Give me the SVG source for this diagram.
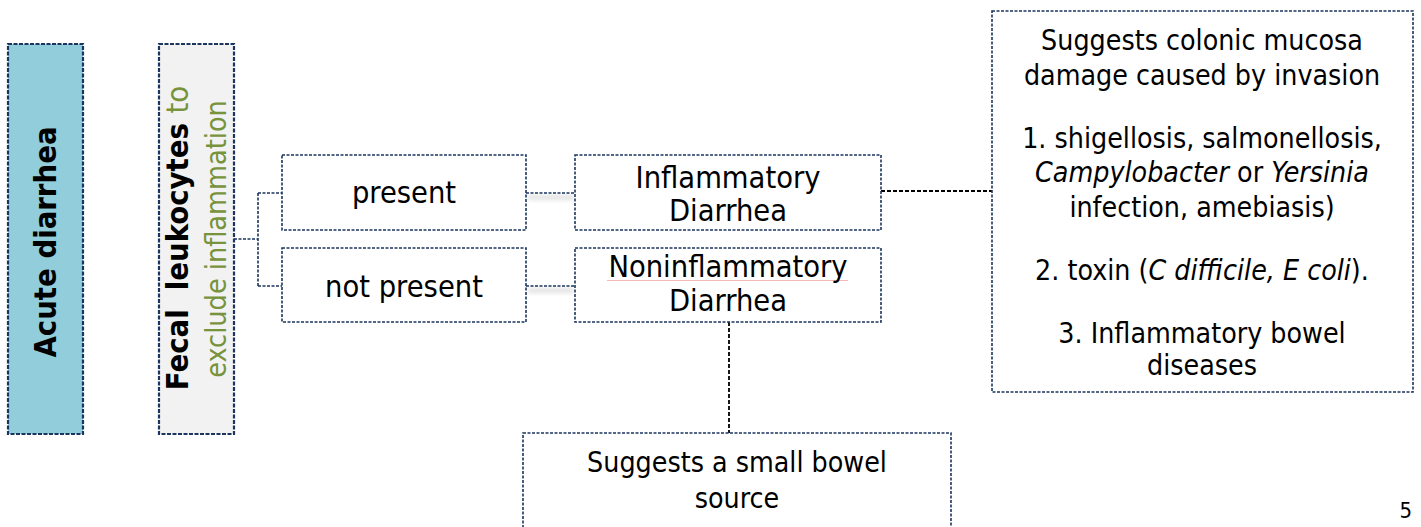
<svg xmlns="http://www.w3.org/2000/svg" width="1421" height="527" viewBox="0 0 1421 527">
<style>
.box{fill:#ffffff;stroke:#1c355e;stroke-width:1.6;stroke-dasharray:3 1.5}
.thick{stroke-width:2.2;stroke-dasharray:4 1.5}
.t{font-family:"DejaVu Sans Condensed","DejaVu Sans",sans-serif;font-stretch:condensed;fill:#000;text-anchor:middle}
.m{font-size:30.5px}
.s{font-size:28.3px}
.b{font-weight:bold}
.i{font-style:italic}
.g{fill:#77933c;font-weight:normal}
.cn{fill:none;stroke:#1c355e;stroke-width:1.6;stroke-dasharray:3 1.5}
.ck{fill:none;stroke:#000;stroke-width:1.8;stroke-dasharray:4 2}
</style>
<defs>
<filter id="blur" x="-20%" y="-100%" width="140%" height="300%"><feGaussianBlur stdDeviation="2"/></filter>
</defs>
<rect width="1421" height="527" fill="#ffffff"/>

<g id="connectors">
<rect x="528" y="195" width="46" height="5" fill="#cfcfcf" opacity="0.6" filter="url(#blur)"/>
<rect x="528" y="288" width="46" height="5" fill="#cfcfcf" opacity="0.6" filter="url(#blur)"/>
<path class="cn" d="M234,239 H258 M258,193 V286 M258,193 H282 M258,286 H282"/>
<path class="cn" d="M526,193 H575"/>
<path class="cn" d="M526,286 H575"/>
<path class="ck" d="M881,191 H992"/>
<path class="ck" d="M729,322 V433"/>
</g>

<g id="acute">
<rect class="box thick" x="8" y="44" width="75" height="390" style="fill:#92cddc"/>
<text class="t b" font-size="30.7" transform="translate(56,242) rotate(-90)">Acute diarrhea</text>
</g>

<g id="fecal">
<rect class="box thick" x="159" y="44" width="75" height="390" style="fill:#f2f2f2"/>
<text class="t b" font-size="30.7" xml:space="preserve" transform="translate(188,238) rotate(-90)">Fecal  leukocytes <tspan class="g">to</tspan></text>
<text class="t" font-size="28.5" style="fill:#77933c" transform="translate(226,239) rotate(-90)">exclude inflammation</text>
</g>

<g id="present">
<rect class="box" x="282" y="155" width="244" height="75"/>
<text class="t m" x="404" y="203">present</text>
</g>

<g id="notpresent">
<rect class="box" x="282" y="248" width="244" height="74"/>
<text class="t m" x="404" y="297">not present</text>
</g>

<g id="inflammatory">
<rect class="box" x="575" y="155" width="306" height="75"/>
<text class="t m" x="728" y="188">Inflammatory</text>
<text class="t m" x="728" y="221">Diarrhea</text>
</g>

<g id="noninflammatory">
<rect class="box" x="575" y="248" width="306" height="74"/>
<line x1="607" y1="280.5" x2="848" y2="280.5" stroke="#f4b8b8" stroke-width="1.2"/>
<text class="t m" x="728" y="277">Noninflammatory</text>
<text class="t m" x="728" y="311">Diarrhea</text>
</g>

<g id="colonic">
<rect class="box" x="992" y="11" width="421" height="381"/>
<text class="t s" x="1202" y="50">Suggests colonic mucosa</text>
<text class="t s" x="1202" y="85">damage caused by invasion</text>
<text class="t s" x="1202" y="148">1. shigellosis, salmonellosis,</text>
<text class="t s" x="1202" y="182"><tspan class="i">Campylobacter</tspan> or <tspan class="i">Yersinia</tspan></text>
<text class="t s" x="1202" y="217">infection, amebiasis)</text>
<text class="t s" x="1202" y="280">2. toxin (<tspan class="i">C difficile, E coli</tspan>).</text>
<text class="t s" x="1202" y="343">3. Inflammatory bowel</text>
<text class="t s" x="1202" y="375">diseases</text>
</g>

<g id="smallbowel">
<rect class="box" x="523" y="433" width="428" height="110"/>
<text class="t s" x="737" y="472">Suggests a small bowel</text>
<text class="t s" x="737" y="508">source</text>
</g>

<text class="t" font-size="22" x="1412" y="518" style="text-anchor:end">5</text>
</svg>
